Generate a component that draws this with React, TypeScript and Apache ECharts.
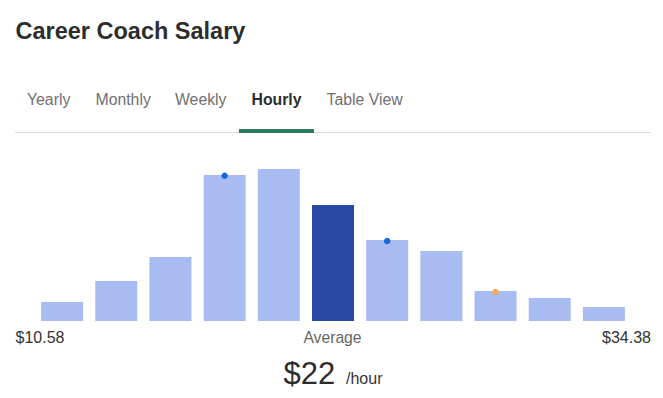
import React, { useEffect, useRef } from "react";
import * as echarts from "echarts";

const titleText = "Career Coach Salary";
const tabs = ["Yearly", "Monthly", "Weekly", "Hourly", "Table View"];
const activeTab = "Hourly";
const binLabels = [
  "$10.58–$12.74",
  "$12.74–$14.91",
  "$14.91–$17.07",
  "$17.07–$19.23",
  "$19.23–$21.40",
  "$21.40–$23.56",
  "$23.56–$25.72",
  "$25.72–$27.89",
  "$27.89–$30.05",
  "$30.05–$32.22",
  "$32.22–$34.38",
];
const binCounts = [19, 40, 64, 146, 152, 116, 81, 70, 30, 23, 14];
const averageBinIndex = 5;
const markerBins = [3, 6, 8];
const markerValues = [145.3, 80, 29];
const markerColors = ["#1668d9", "#1668d9", "#f4a95c"];
const tickLabels = ["$10.58", "Average", "$34.38"];
const averageValue = "$22";
const unitText = "/hour";

const FONT = "Liberation Sans";
const tabX = [27, 95.5, 175, 251.5, 326.5];

function txt(
  text: string,
  x: number,
  y: number,
  size: number,
  fill: string,
  align: string,
  bold = false
) {
  return {
    type: "text",
    x,
    y,
    style: {
      text,
      fontFamily: FONT,
      fontSize: size,
      fontWeight: bold ? "bold" : "normal",
      fill,
      align,
      verticalAlign: "middle",
    },
  };
}

export default function App() {
  const ref = useRef<HTMLDivElement>(null);
  useEffect(() => {
    if (!ref.current) return;
    const chart = echarts.init(ref.current, undefined, { renderer: "svg" });
    const graphic: any[] = [
      txt(titleText, 15.5, 31.2, 23.5, "#2d2d2d", "left", true),
      ...tabs.map((t, i) =>
        txt(t, tabX[i], 99.8, 15.8, t === activeTab ? "#2d2d2d" : "#6f7073", "left", t === activeTab)
      ),
      {
        type: "line",
        shape: { x1: 15, y1: 132.5, x2: 651, y2: 132.5 },
        style: { stroke: "#dcdcdc", lineWidth: 1 },
      },
      {
        type: "rect",
        shape: { x: 239, y: 129, width: 75, height: 4 },
        style: { fill: "#2b7a62" },
      },
      txt(tickLabels[0], 15.5, 337.4, 16, "#333333", "left"),
      txt(tickLabels[1], 332.5, 337.4, 15.7, "#666666", "center"),
      txt(tickLabels[2], 651, 337.4, 16, "#333333", "right"),
      txt(averageValue, 283.5, 373.3, 31, "#2d2d2d", "left"),
      txt(unitText, 346, 378.4, 16, "#333333", "left"),
    ];
    chart.setOption({
      animation: false,
      grid: { left: 35, right: 32, top: 161, bottom: 77 },
      xAxis: {
        type: "category",
        data: binLabels,
        axisLine: { show: false },
        axisTick: { show: false },
        axisLabel: { show: false },
        splitLine: { show: false },
      },
      yAxis: {
        type: "value",
        min: 0,
        max: 160,
        show: false,
        splitLine: { show: false },
      },
      series: [
        {
          type: "bar",
          barWidth: 42,
          data: binCounts.map((v, i) => ({
            value: v,
            itemStyle: { color: i === averageBinIndex ? "#2749a3" : "#a8bcf2" },
          })),
          silent: true,
        },
        {
          type: "scatter",
          symbol: "circle",
          symbolSize: 6.5,
          data: markerBins.map((b, i) => ({
            value: [b, markerValues[i]],
            itemStyle: { color: markerColors[i], opacity: 1 },
          })),
          z: 5,
          silent: true,
        },
      ],
      graphic,
    });
    return () => chart.dispose();
  }, []);
  return (
    <div
      ref={ref}
      style={{
        position: "fixed",
        left: 0,
        top: 0,
        width: 663,
        height: 398,
        background: "#ffffff",
      }}
    />
  );
}
